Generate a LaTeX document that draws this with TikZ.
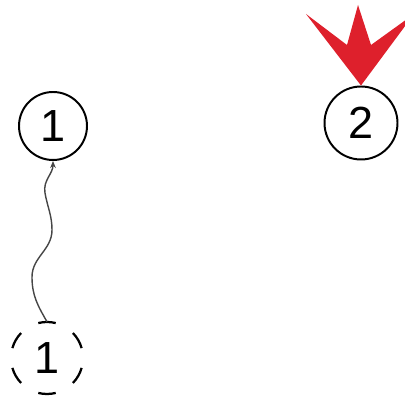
\documentclass[tikz,border=0pt]{standalone}
\usepackage{fontspec}
\setmainfont{Liberation Sans}
\usetikzlibrary{arrows.meta}
\definecolor{tipred}{RGB}{222,32,44}
\definecolor{wire}{RGB}{70,70,70}
\tikzset{
  state/.style={circle,draw=black,line width=1.4pt,inner sep=0pt,font=\fontsize{32}{32}\selectfont},
  ghost/.style={circle,draw=none,inner sep=0pt,font=\fontsize{32}{32}\selectfont},
  ghostline/.style={draw=black,line width=1.6pt},
  conn/.style={draw=wire,line width=1pt,-{Stealth[length=5pt,width=4pt]}}
}
\begin{document}
\begin{tikzpicture}[x=0.025cm,y=0.025cm]
\useasboundingbox (0,0) rectangle (405,398);
\clip (0,0) rectangle (405,398);
\node[state,minimum size=68*0.025cm] (a) at (53,272) {1};
\node[state,minimum size=73*0.025cm] (b) at (361,275) {2};
\node[ghost,minimum size=72*0.025cm] (d) at (47,40) {1};
\foreach \ang in {30,90,...,330}
  \draw[ghostline] ([shift={(\ang-14:36)}]d.center) arc[start angle=\ang-14,end angle=\ang+14,radius=36];
\coordinate (w1) at (32,121);
\coordinate (w2) at (52,168);
\coordinate (w3) at (45,205);
\draw[conn] (d.north) to[out=120,in=-90] (w1) to[out=90,in=-90] (w2)
  to[out=90,in=-80] (w3) to[out=100,in=-90] (a.south);
\fill[tipred] (b.north) -- (306,384) -- (347,353) -- (358,393) -- (371,353) -- (414,384) -- cycle;
\end{tikzpicture}
\end{document}
